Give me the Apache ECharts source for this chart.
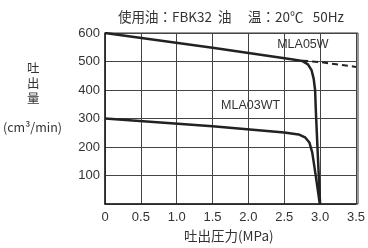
<!DOCTYPE html>
<html>
<head>
<meta charset="utf-8">
<script src="https://cdn.jsdelivr.net/npm/echarts@6/dist/echarts.min.js"></script>
<style>
  html, body { margin: 0; padding: 0; background: #fff; }
  #chart { width: 368px; height: 248px; }
</style>
</head>
<body>
<div id="chart"></div>
<script>
// 吐出圧力 (MPa) と 吐出量 (cm3/min)
const mla05wPressure = [0, 1.5, 2.6, 2.75, 2.83, 2.88, 2.91, 2.93, 2.94, 2.97, 3.0];
const mla05wFlow     = [600, 548, 508, 502, 490, 470, 440, 400, 330, 160, 0];
const mla05wDashPressure = [2.75, 3.0, 3.5];
const mla05wDashFlow     = [503, 498, 481];
const mla03wtPressure = [0, 1.5, 2.5, 2.7, 2.79, 2.85, 2.89, 2.94, 2.99, 3.0];
const mla03wtFlow     = [300, 273, 251, 244, 234, 216, 181, 98, 10, 0];
const xTicks = ['0', '0.5', '1.0', '1.5', '2.0', '2.5', '3.0', '3.5'];

const pairs = (xs, ys) => xs.map((x, i) => [x, ys[i]]);

const chart = echarts.init(document.getElementById('chart'));
const textColor = '#333';
const gridColor = '#444';
const cjk = 'Noto Sans CJK JP';

chart.setOption({
  animation: false,
  grid: { left: 105, right: 10, top: 33, bottom: 44 },
  title: {
    text: '使用油：FBK32  油　 温：20℃   50Hz',
    left: 113, top: 5,
    textStyle: { fontSize: 13.5, fontWeight: 'normal', color: textColor, fontFamily: cjk }
  },
  xAxis: {
    type: 'value', min: 0, max: 3.5, interval: 0.5,
    axisLine: { show: true, lineStyle: { color: '#222', width: 1.5 } },
    axisTick: { show: false },
    splitLine: { show: true, lineStyle: { color: gridColor, width: 1 } },
    axisLabel: {
      color: textColor, fontSize: 13, margin: 7,
      formatter: v => xTicks[Math.round(v / 0.5)]
    }
  },
  yAxis: {
    type: 'value', min: 0, max: 600, interval: 100,
    axisLine: { show: true, lineStyle: { color: '#222', width: 1.5 } },
    axisTick: { show: false },
    splitLine: { show: true, lineStyle: { color: gridColor, width: 1 } },
    axisLabel: {
      color: textColor, fontSize: 13, margin: 5,
      formatter: v => (v === 0 ? '' : String(v))
    }
  },
  graphic: [
    { type: 'rect', shape: { x: 105, y: 33, width: 253, height: 171 },
      style: { fill: 'none', stroke: '#333', lineWidth: 1 }, silent: true },
    { type: 'text', left: 27, top: 61,
      style: { text: '吐\n出\n量', fill: textColor, fontSize: 12.5, lineHeight: 15, fontFamily: cjk } },
    { type: 'text', left: 3, top: 121,
      style: { text: '(cm³/min)', fill: textColor, fontSize: 12.5, fontFamily: cjk } },
    { type: 'text', left: 184, top: 229,
      style: { text: '吐出圧力(MPa)', fill: textColor, fontSize: 13.5, fontFamily: cjk } }
  ],
  series: [
    {
      type: 'line', data: pairs(mla05wPressure, mla05wFlow), showSymbol: false,
      lineStyle: { color: '#222', width: 2.5 },
      markPoint: {
        symbol: 'rect', symbolSize: 0,
        data: [{ coord: [2.76, 560], label: { show: true, formatter: 'MLA05W', color: textColor, fontSize: 12.5 } }]
      }
    },
    {
      type: 'line', data: pairs(mla05wDashPressure, mla05wDashFlow), showSymbol: false,
      lineStyle: { color: '#222', width: 2, type: [6, 4] }
    },
    {
      type: 'line', data: pairs(mla03wtPressure, mla03wtFlow), showSymbol: false,
      lineStyle: { color: '#222', width: 2.5 },
      markPoint: {
        symbol: 'rect', symbolSize: 0,
        data: [{ coord: [2.03, 345], label: { show: true, formatter: 'MLA03WT', color: textColor, fontSize: 12.5 } }]
      }
    }
  ]
});
</script>
</body>
</html>
